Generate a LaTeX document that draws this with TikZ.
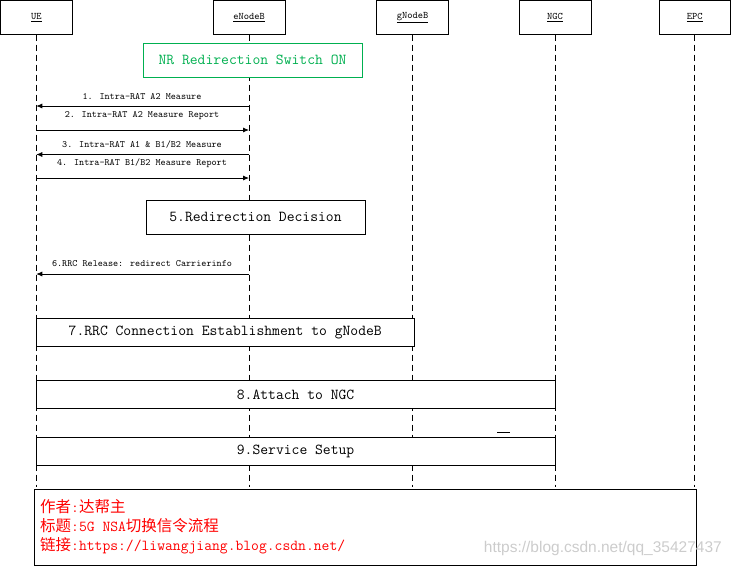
\documentclass[tikz,border=0pt]{standalone}
\usepackage{fontspec}
\newfontfamily\cjkfont{Noto Sans CJK SC}
\newfontfamily\wmfont{Liberation Sans}
\usetikzlibrary{arrows.meta}
\definecolor{nrgreen}{RGB}{0,176,80}
\newcommand\zhtxt[1]{{\cjkfont\fontsize{15.5}{18}\selectfont #1}}
\begin{document}
\begin{tikzpicture}[x=1pt,y=-1pt,
 actor/.style={draw,fill=white,line width=0.8pt,minimum width=72pt,minimum height=34pt,inner sep=0,font=\ttfamily\fontsize{10}{11}\selectfont},
 life/.style={line width=0.8pt,dash pattern=on 6pt off 4pt},
 msg/.style={line width=0.8pt,-{Latex[length=6pt,width=5pt]}},
 mlabel/.style={font=\ttfamily\fontsize{9.7}{11}\selectfont,inner sep=0},
 stepbox/.style={draw,fill=white,line width=0.8pt,inner sep=0,font=\ttfamily\fontsize{15.2}{17}\selectfont},
 notetxt/.style={anchor=west,inner sep=0,text=red,font=\ttfamily\fontsize{15.2}{17}\selectfont},
]
\useasboundingbox (0,0) rectangle (731,566);

% actors
\node[actor] (UE) at (36.25,17.25) {\underline{UE}};
\node[actor] (eNB) at (249,17.25) {\underline{eNodeB}};
\node[actor] (gNB) at (412.5,17.25) {\underline{gNodeB}};
\node[actor] (NGC) at (555,17.25) {\underline{NGC}};
\node[actor,minimum width=71.5pt] (EPC) at (694.75,17.25) {\underline{EPC}};

% lifeline ends
\coordinate (ueE) at (36.25,487);
\coordinate (eE) at (249,487);
\coordinate (gE) at (412.5,487);
\coordinate (nE) at (555,487);
\coordinate (pE) at (694.75,487);
\draw[life] (UE.south) -- (ueE);
\draw[life] (eNB.south) -- (eE);
\draw[life] (gNB.south) -- (gE);
\draw[life] (NGC.south) -- (nE);
\draw[life] (EPC.south) -- (pE);

% NR switch box
\node[draw=nrgreen,fill=white,line width=0.8pt,minimum width=219pt,minimum height=34pt,inner sep=0,text=nrgreen,font=\ttfamily\fontsize{15.2}{17}\selectfont] (nr) at (252.5,60) {NR Redirection Switch ON};

% messages
\coordinate (e1) at (249,106); \coordinate (u1) at (36.25,106);
\coordinate (u2) at (36.25,130); \coordinate (e2) at (249,130);
\coordinate (e3) at (249,154.5); \coordinate (u3) at (36.25,154.5);
\coordinate (u4) at (36.25,178); \coordinate (e4) at (249,178);
\coordinate (e6) at (249,274); \coordinate (u6) at (36.25,274);
\draw[msg] (e1) -- (u1);
\draw[msg] (u2) -- (e2);
\draw[msg] (e3) -- (u3);
\draw[msg] (u4) -- (e4);
\draw[msg] (e6) -- (u6);
\node[mlabel] (l1) at (142,96.5) {1. Intra-RAT A2 Measure};
\node[mlabel] (l2) at (142,115.5) {2. Intra-RAT A2 Measure Report};
\node[mlabel] (l3) at (142,144.5) {3. Intra-RAT A1 \& B1/B2 Measure};
\node[mlabel] (l4) at (142,163.5) {4. Intra-RAT B1/B2 Measure Report};
\node[mlabel] (l6) at (142,264) {6.RRC Release: redirect Carrierinfo};

% step boxes
\node[stepbox,minimum width=219pt,minimum height=34pt] (s5) at (255.5,217) {5.Redirection Decision};
\node[stepbox,minimum width=378pt,minimum height=27.5pt] (s7) at (225.25,332.5) {7.RRC Connection Establishment to gNodeB};
\node[stepbox,minimum width=518.75pt,minimum height=27.5pt] (s8) at (295.6,394.5) {8.Attach to NGC};
\coordinate (d1) at (497,432); \coordinate (d2) at (510,432);
\draw[line width=0.8pt] (d1) -- (d2);
\node[stepbox,minimum width=518.75pt,minimum height=27.5pt] (s9) at (295.6,451.5) {9.Service Setup};

% note box
\node[draw,line width=0.8pt,minimum width=662pt,minimum height=76pt,inner sep=0] (note) at (365.5,527) {};
\node[notetxt] (n1) at (40,507) {\zhtxt{作者}:\zhtxt{达帮主}};
\node[notetxt] (n2) at (40,526) {\zhtxt{标题}:5G NSA\zhtxt{切换信令流程}};
\node[notetxt] (n3) at (40,546) {\zhtxt{链接}:https://liwangjiang.blog.csdn.net/};

% watermark
\node[anchor=east,inner sep=0,text=black!20,font=\wmfont\fontsize{15.5}{18}\selectfont] (wm) at (722,548) {https://blog.csdn.net/qq\_35427437};
\end{tikzpicture}
\end{document}
